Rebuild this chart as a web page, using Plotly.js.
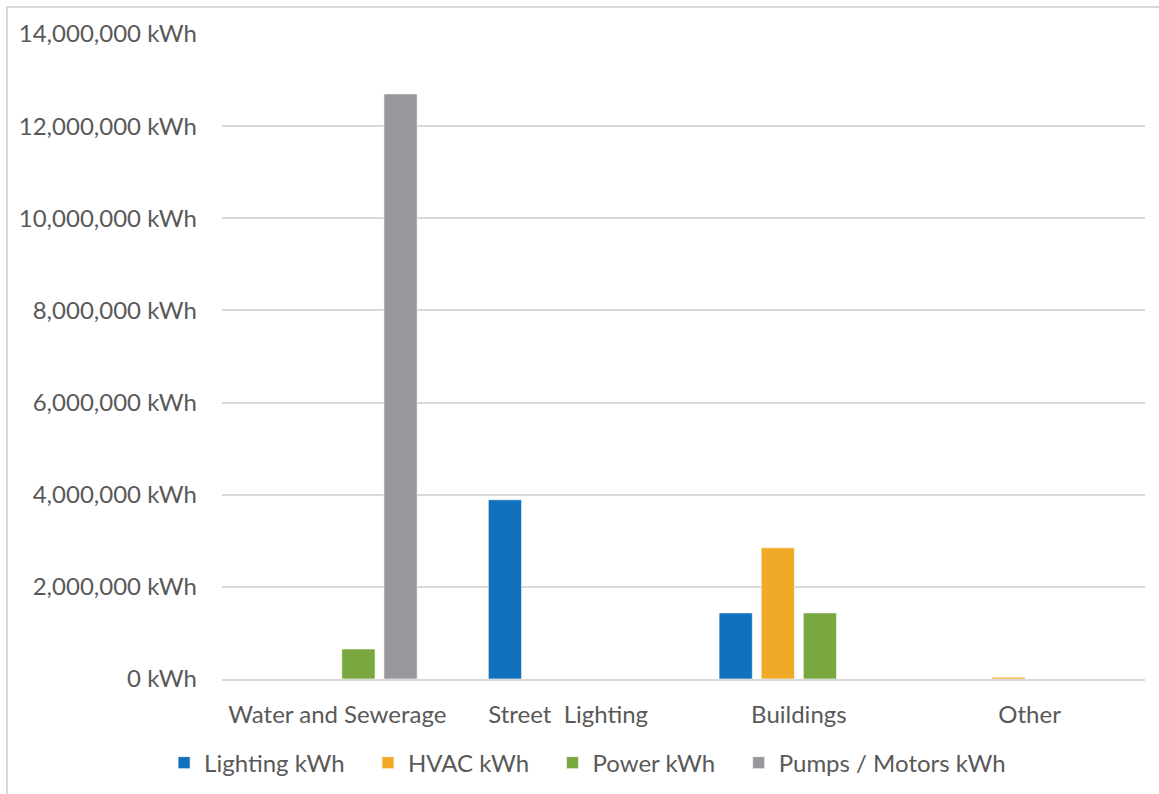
<!DOCTYPE html>
<html>
<head>
<meta charset="utf-8">
<script src="https://cdn.plot.ly/plotly-3.0.1.min.js"></script>
<style>
  html, body { margin: 0; padding: 0; background: #ffffff; }
  #frame { position: absolute; left: 0; top: 0; width: 1159px; height: 794px; overflow: hidden; }
  #edge { position: absolute; left: 6px; top: 6px; width: 1200px; height: 900px;
          border-left: 2px solid #d9d9d9; border-top: 2px solid #d9d9d9; pointer-events: none; }
  #chart { position: absolute; left: 0; top: 0; width: 1159px; height: 794px; }
</style>
</head>
<body>
<div id="frame">
  <div id="chart"></div>
  <div id="edge"></div>
</div>
<script>
// Energy use by sector and end use
const categories = ["Water and Sewerage", "Street\u00a0 Lighting", "Buildings", "Other"];
const seriesNames = ["Lighting kWh", "HVAC kWh", "Power kWh", "Pumps / Motors kWh"];
const lightingKWh = [0, 3890000, 1435000, 0];
const hvacKWh = [0, 0, 2848000, 40000];
const powerKWh = [652000, 0, 1435000, 0];
const pumpsKWh = [12700000, 0, 0, 0];
const seriesColors = ["#1271bc", "#f1aa28", "#79a841", "#97989c"];
const yTickValues = [0, 2000000, 4000000, 6000000, 8000000, 10000000, 12000000, 14000000];
const yTickLabels = ["0 kWh", "2,000,000 kWh", "4,000,000 kWh", "6,000,000 kWh",
                     "8,000,000 kWh", "10,000,000 kWh", "12,000,000 kWh", "14,000,000 kWh"];

const seriesValues = [lightingKWh, hvacKWh, powerKWh, pumpsKWh];
const fontFamily = "Lato, 'Open Sans', sans-serif";
const textColor = "#595959";
// a little extra room after each legend entry except the last
const legendPad = "\u00a0\u00a0\u00a0";

const traces = seriesValues.map((vals, i) => ({
  type: "bar",
  name: seriesNames[i] + (i < seriesNames.length - 1 ? legendPad : ""),
  x: categories,
  y: vals,
  marker: { color: seriesColors[i], line: { color: "rgba(255,255,255,0.6)", width: 1 } },
  hoverinfo: "x+y+name"
}));

const layout = {
  width: 1159,
  height: 794,
  margin: { l: 222, r: 14, t: 34, b: 115 },
  paper_bgcolor: "rgba(0,0,0,0)",
  plot_bgcolor: "#ffffff",
  barmode: "group",
  bargap: 0.27,
  bargroupgap: 0.21,
  font: { family: fontFamily, size: 24, color: textColor },
  xaxis: {
    type: "category",
    showgrid: false,
    showline: true,
    linecolor: "#d9d9d9",
    linewidth: 2,
    ticks: "",
    ticklabelstandoff: 13,
    tickfont: { family: fontFamily, size: 24, color: textColor },
    zeroline: false
  },
  yaxis: {
    range: [0, 14000000],
    tickmode: "array",
    tickvals: yTickValues,
    ticktext: yTickLabels,
    showgrid: true,
    gridcolor: "#d9d9d9",
    gridwidth: 2,
    zeroline: false,
    showline: false,
    ticks: "",
    ticklabelstandoff: 24,
    tickfont: { family: fontFamily, size: 24, color: textColor }
  },
  showlegend: true,
  legend: {
    orientation: "h",
    xref: "container",
    yref: "container",
    x: 0.507,
    xanchor: "center",
    y: 0.039,
    yanchor: "middle",
    font: { family: fontFamily, size: 24, color: textColor },
    itemwidth: 30,
    bgcolor: "rgba(0,0,0,0)"
  }
};

Plotly.newPlot("chart", traces, layout, { displayModeBar: false, responsive: false });
</script>
</body>
</html>
